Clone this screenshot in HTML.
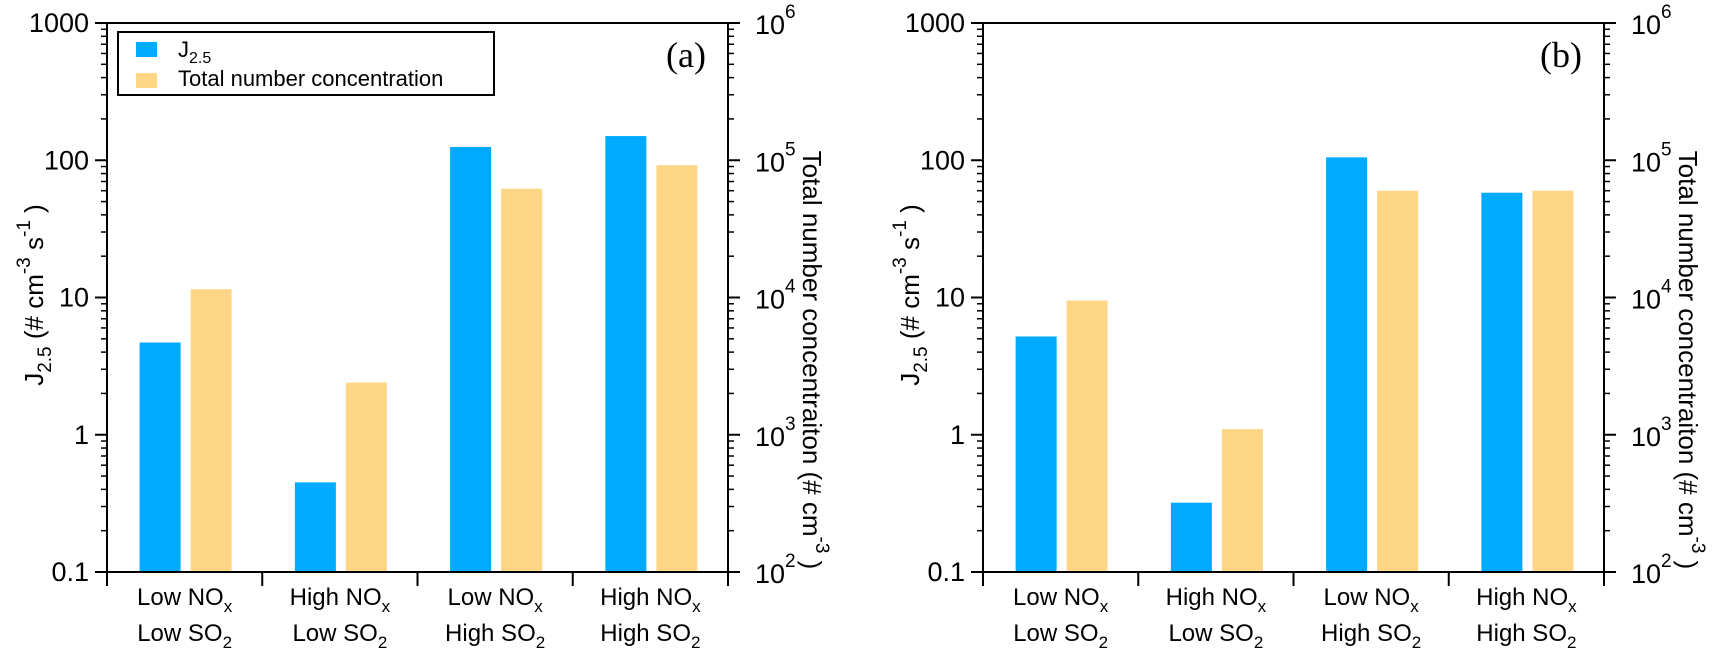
<!DOCTYPE html>
<html><head><meta charset="utf-8"><style>
body{margin:0;background:#fff}
svg{display:block;font-family:"Liberation Sans",Arial,sans-serif}
</style></head><body>
<svg id="c" width="1721" height="653" viewBox="0 0 1721 653" xmlns="http://www.w3.org/2000/svg"></svg>
<script>
const categories=[["Low NO","x","Low SO","2"],["High NO","x","Low SO","2"],["Low NO","x","High SO","2"],["High NO","x","High SO","2"]];
const jA=[4.7,0.45,125,150];
const nA=[11500,2400,62000,92000];
const jB=[5.2,0.32,105,58];
const nB=[9500,1100,60000,60000];
const leftTicks=["0.1","1","10","100","1000"];
const rightExp=["2","3","4","5","6"];
const NS="http://www.w3.org/2000/svg";
const svg=document.getElementById('c');
function el(t,a,p){const e=document.createElementNS(NS,t);for(const k in a)e.setAttribute(k,a[k]);(p||svg).appendChild(e);return e;}
const TOP=23,BOT=572,DEC=(BOT-TOP)/4;
function yL(v){return BOT-(Math.log10(v)+1)*DEC;}
function yR(v){return BOT-(Math.log10(v)-2)*DEC;}
function panel(x0,x1,J,N,tag,legend){
  const g=el('g',{});
  
  
  const cw=(x1-x0)/4;
  for(let i=0;i<4;i++){
    const c=x0+cw*(i+0.5);
    const yb=yL(J[i]);
    const b=el('rect',{x:c-45,y:yb,width:41,height:BOT-yb,fill:'#00aaff'},g);
    
    
    const yo=yR(N[i]);
    const o=el('rect',{x:c+6,y:yo,width:41,height:BOT-yo,fill:'#ffd685'},g);
    
    
  }
  el('rect',{x:x0,y:TOP,width:x1-x0,height:BOT-TOP,fill:'none',stroke:'#000','stroke-width':2},g);
  for(let d=0;d<4;d++){for(let m=2;m<=9;m++){const y=BOT-(d+Math.log10(m))*DEC;
    el('line',{x1:x0-6,x2:x0,y1:y,y2:y,stroke:'#000','stroke-width':1.5},g);
    el('line',{x1:x1,x2:x1+6,y1:y,y2:y,stroke:'#000','stroke-width':1.5},g);}}
  for(let d=0;d<5;d++){const y=BOT-d*DEC;
    el('line',{x1:x0-12,x2:x0,y1:y,y2:y,stroke:'#000','stroke-width':2},g);
    el('line',{x1:x1,x2:x1+12,y1:y,y2:y,stroke:'#000','stroke-width':2},g);
    const t=el('text',{x:x0-18,y:y+9,'text-anchor':'end','font-size':27},g);t.textContent=leftTicks[d];
    
    const r=el('text',{x:x1+27,y:y+11,'font-size':27},g);r.textContent='10';
    const s=el('tspan',{dy:-16,'font-size':19},r);s.textContent=rightExp[d];
    }
  for(let i=0;i<=4;i++){const x=x0+cw*i;el('line',{x1:x,x2:x,y1:BOT,y2:BOT+14,stroke:'#000','stroke-width':2},g);}
  for(let i=0;i<4;i++){const c=x0+cw*(i+0.5);const cat=categories[i];
    const t1=el('text',{x:c,y:605,'text-anchor':'middle','font-size':24},g);
    
    t1.appendChild(document.createTextNode(cat[0]));
    const s1=el('tspan',{dy:7,'font-size':17},t1);s1.textContent=cat[1];
    const t2=el('text',{x:c,y:641,'text-anchor':'middle','font-size':24},g);
    
    t2.appendChild(document.createTextNode(cat[2]));
    const s2=el('tspan',{dy:7,'font-size':17},t2);s2.textContent=cat[3];}
  const lt=el('text',{transform:`translate(${x0-64},295) rotate(-90)`,'text-anchor':'middle','font-size':26},g);
  
  lt.appendChild(document.createTextNode('J'));
  let s=el('tspan',{dy:8,'font-size':19},lt);s.textContent='2.5';
  s=el('tspan',{dy:-8},lt);s.textContent='  (# cm';
  s=el('tspan',{dy:-13,'font-size':19},lt);s.textContent='-3';
  s=el('tspan',{dy:13},lt);s.textContent='  s';
  s=el('tspan',{dy:-13,'font-size':19},lt);s.textContent='-1';
  s=el('tspan',{dy:13},lt);s.textContent=' )';
  const rt=el('text',{transform:`translate(${x1+75},360) rotate(90)`,'text-anchor':'middle','font-size':26},g);
  
  rt.appendChild(document.createTextNode('Total number concentraiton (# cm'));
  s=el('tspan',{dy:-13,'font-size':19},rt);s.textContent='-3';
  s=el('tspan',{dy:13},rt);s.textContent=' )';
  const pl=el('text',{x:x1-22,y:67,'text-anchor':'end','font-size':36,'font-family':'Liberation Serif,serif'},g);
  pl.textContent='('+tag+')';
  if(legend){const lg=el('g',{},g);
    el('rect',{x:118,y:32,width:376,height:63,fill:'#fff',stroke:'#000','stroke-width':2},lg);
    el('rect',{x:136,y:42,width:21,height:15,fill:'#00aaff'},lg);
    el('rect',{x:136,y:73,width:21,height:15,fill:'#ffd685'},lg);
    const a=el('text',{x:178,y:57,'font-size':22},lg);a.appendChild(document.createTextNode('J'));
    const as=el('tspan',{dy:6,'font-size':16},a);as.textContent='2.5';
    
    const b=el('text',{x:178,y:86,'font-size':22},lg);b.textContent='Total number concentration';
    }
}
panel(107,728,jA,nA,'a',true);
panel(983,1604,jB,nB,'b',false);
</script>
</body></html>
